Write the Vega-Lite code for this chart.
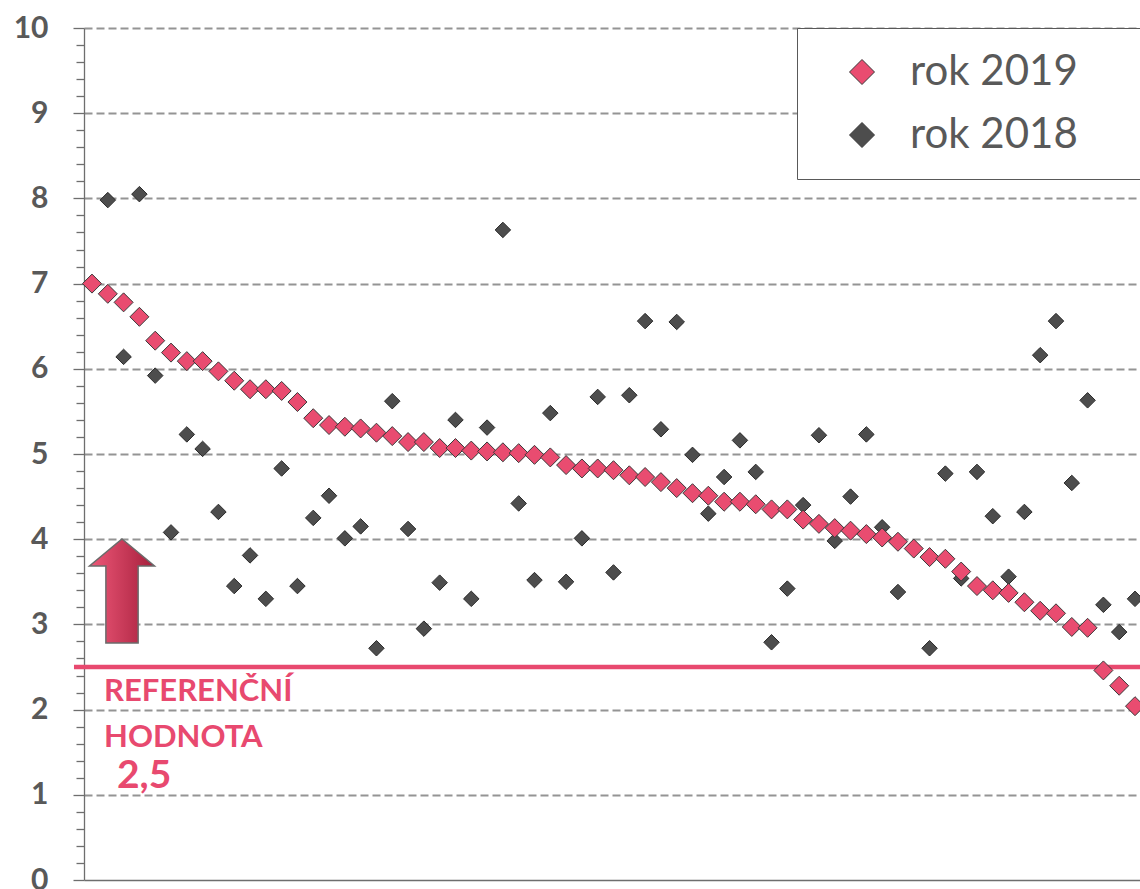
{
  "$schema": "https://vega.github.io/schema/vega-lite/v6.json",
  "autosize": {"type": "none"},
  "width": 1056,
  "height": 852,
  "padding": {"left": 84, "top": 28, "right": 0, "bottom": 9},
  "background": "#ffffff",
  "config": {
    "view": {"stroke": null},
    "legend": {
      "orient": "none",
      "legendX": 713,
      "legendY": 0,
      "padding": 23,
      "rowPadding": 21,
      "strokeColor": "#595959",
      "fillColor": "#ffffff",
      "symbolType": "diamond",
      "symbolSize": 625,
      "symbolStrokeColor": "#3a3a3a",
      "symbolStrokeWidth": 1,
      "symbolOffset": 21,
      "labelOffset": 27,
      "labelFont": "Lato",
      "labelFontSize": 42,
      "labelColor": "#595959",
      "labelLimit": 1000,
      "title": null
    }
  },
  "data": {
    "values": [
      {"i": 1, "y2019": 7.00, "y2018": null},
      {"i": 2, "y2019": 6.88, "y2018": 7.98},
      {"i": 3, "y2019": 6.78, "y2018": 6.14},
      {"i": 4, "y2019": 6.61, "y2018": 8.05},
      {"i": 5, "y2019": 6.33, "y2018": 5.92},
      {"i": 6, "y2019": 6.19, "y2018": 4.08},
      {"i": 7, "y2019": 6.09, "y2018": 5.23},
      {"i": 8, "y2019": 6.09, "y2018": 5.06},
      {"i": 9, "y2019": 5.97, "y2018": 4.32},
      {"i": 10, "y2019": 5.86, "y2018": 3.45},
      {"i": 11, "y2019": 5.76, "y2018": 3.81},
      {"i": 12, "y2019": 5.76, "y2018": 3.30},
      {"i": 13, "y2019": 5.74, "y2018": 4.83},
      {"i": 14, "y2019": 5.61, "y2018": 3.45},
      {"i": 15, "y2019": 5.42, "y2018": 4.25},
      {"i": 16, "y2019": 5.34, "y2018": 4.51},
      {"i": 17, "y2019": 5.32, "y2018": 4.01},
      {"i": 18, "y2019": 5.30, "y2018": 4.15},
      {"i": 19, "y2019": 5.25, "y2018": 2.72},
      {"i": 20, "y2019": 5.21, "y2018": 5.62},
      {"i": 21, "y2019": 5.14, "y2018": 4.12},
      {"i": 22, "y2019": 5.14, "y2018": 2.95},
      {"i": 23, "y2019": 5.07, "y2018": 3.49},
      {"i": 24, "y2019": 5.07, "y2018": 5.40},
      {"i": 25, "y2019": 5.04, "y2018": 3.30},
      {"i": 26, "y2019": 5.03, "y2018": 5.31},
      {"i": 27, "y2019": 5.02, "y2018": 7.63},
      {"i": 28, "y2019": 5.01, "y2018": 4.42},
      {"i": 29, "y2019": 4.99, "y2018": 3.52},
      {"i": 30, "y2019": 4.96, "y2018": 5.48},
      {"i": 31, "y2019": 4.87, "y2018": 3.50},
      {"i": 32, "y2019": 4.83, "y2018": 4.01},
      {"i": 33, "y2019": 4.83, "y2018": 5.67},
      {"i": 34, "y2019": 4.81, "y2018": 3.61},
      {"i": 35, "y2019": 4.75, "y2018": 5.69},
      {"i": 36, "y2019": 4.73, "y2018": 6.56},
      {"i": 37, "y2019": 4.67, "y2018": 5.29},
      {"i": 38, "y2019": 4.60, "y2018": 6.55},
      {"i": 39, "y2019": 4.54, "y2018": 4.99},
      {"i": 40, "y2019": 4.51, "y2018": 4.30},
      {"i": 41, "y2019": 4.44, "y2018": 4.73},
      {"i": 42, "y2019": 4.44, "y2018": 5.16},
      {"i": 43, "y2019": 4.41, "y2018": 4.79},
      {"i": 44, "y2019": 4.35, "y2018": 2.79},
      {"i": 45, "y2019": 4.35, "y2018": 3.42},
      {"i": 46, "y2019": 4.23, "y2018": 4.40},
      {"i": 47, "y2019": 4.18, "y2018": 5.22},
      {"i": 48, "y2019": 4.13, "y2018": 3.98},
      {"i": 49, "y2019": 4.10, "y2018": 4.50},
      {"i": 50, "y2019": 4.06, "y2018": 5.23},
      {"i": 51, "y2019": 4.02, "y2018": 4.14},
      {"i": 52, "y2019": 3.97, "y2018": 3.38},
      {"i": 53, "y2019": 3.89, "y2018": null},
      {"i": 54, "y2019": 3.79, "y2018": 2.72},
      {"i": 55, "y2019": 3.77, "y2018": 4.77},
      {"i": 56, "y2019": 3.62, "y2018": 3.54},
      {"i": 57, "y2019": 3.45, "y2018": 4.79},
      {"i": 58, "y2019": 3.40, "y2018": 4.27},
      {"i": 59, "y2019": 3.37, "y2018": 3.56},
      {"i": 60, "y2019": 3.26, "y2018": 4.32},
      {"i": 61, "y2019": 3.16, "y2018": 6.16},
      {"i": 62, "y2019": 3.13, "y2018": 6.56},
      {"i": 63, "y2019": 2.97, "y2018": 4.66},
      {"i": 64, "y2019": 2.96, "y2018": 5.63},
      {"i": 65, "y2019": 2.46, "y2018": 3.23},
      {"i": 66, "y2019": 2.28, "y2018": 2.91},
      {"i": 67, "y2019": 2.04, "y2018": 3.30}
    ]
  },
  "layer": [
    {
      "data": {"values": [{"ref": 2.5}]},
      "mark": {"type": "rule", "color": "#E8496F", "strokeWidth": 4.5, "clip": false},
      "encoding": {
        "x": {"datum": -0.14, "type": "quantitative"},
        "x2": {"datum": 70},
        "y": {"field": "ref", "type": "quantitative"}
      }
    },
    {
      "transform": [{"filter": "isValid(datum.y2018)"}],
      "mark": {"type": "point", "shape": "diamond", "filled": true, "size": 240, "opacity": 1, "stroke": "#2b2b2b", "strokeWidth": 1},
      "encoding": {
        "x": {
          "field": "i", "type": "quantitative",
          "scale": {"domain": [0.494, 67.316], "nice": false, "zero": false},
          "axis": {"title": null, "labels": false, "ticks": false, "grid": false, "domain": true, "domainColor": "#6e6e6e", "domainWidth": 1.3}
        },
        "y": {
          "field": "y2018", "type": "quantitative",
          "scale": {"domain": [0, 10], "nice": false, "zero": true},
          "axis": {
            "title": null,
            "tickCount": 100,
            "values": [0,0.2,0.4,0.6,0.8,1,1.2,1.4,1.6,1.8,2,2.2,2.4,2.6,2.8,3,3.2,3.4,3.6,3.8,4,4.2,4.4,4.6,4.8,5,5.2,5.4,5.6,5.8,6,6.2,6.4,6.6,6.8,7,7.2,7.4,7.6,7.8,8,8.2,8.4,8.6,8.8,9,9.2,9.4,9.6,9.8,10],
            "labelExpr": "abs(datum.value - round(datum.value)) < 0.001 ? format(datum.value, 'd') : ''",
            "labelOverlap": false,
            "labelFont": "Lato",
            "labelFontWeight": "bold",
            "labelFontSize": 30,
            "labelColor": "#595959",
            "labelPadding": 25,
            "labelBaseline": "middle",
            "domainColor": "#6e6e6e",
            "domainWidth": 1.3,
            "tickColor": "#6e6e6e",
            "tickWidth": 1.3,
            "tickSize": {"condition": {"test": "abs(datum.value - round(datum.value)) < 0.001", "value": 11}, "value": 8},
            "grid": true,
            "gridColor": "#949494",
            "gridWidth": 2,
            "gridDash": [8, 4],
            "gridOpacity": {"condition": {"test": "abs(datum.value - round(datum.value)) < 0.001 && datum.value > 0.5", "value": 1}, "value": 0}
          }
        },
        "color": {
          "datum": "rok 2018", "type": "nominal",
          "scale": {"domain": ["rok 2019", "rok 2018"], "range": ["#E94C70", "#4D4D4D"]},
          "legend": {
            "title": null,
            "labelExpr": "datum.label + '\u2800\u2800'"
          }
        }
      }
    },
    {
      "mark": {"type": "point", "shape": "diamond", "filled": true, "size": 361, "opacity": 1, "stroke": "#3a3a3a", "strokeWidth": 1},
      "encoding": {
        "x": {"field": "i", "type": "quantitative"},
        "y": {"field": "y2019", "type": "quantitative"},
        "color": {
          "datum": "rok 2019", "type": "nominal",
          "legend": {
            "title": null,
            "labelExpr": "datum.label + '\u2800\u2800'"
          }
        }
      }
    },
    {
      "data": {"values": [{"ax": 2.899, "ay": 3.392}]},
      "mark": {
        "type": "point", "filled": true, "opacity": 1,
        "shape": "M0,-1 L0.625,-0.48 L0.31,-0.48 L0.31,1 L-0.31,1 L-0.31,-0.48 L-0.625,-0.48 Z",
        "size": 10816,
        "fill": {"gradient": "linear", "x1": 0, "y1": 0, "x2": 1, "y2": 0, "stops": [{"offset": 0, "color": "#EE5878"}, {"offset": 1, "color": "#A51F3C"}]},
        "stroke": "#6b6b6b", "strokeWidth": 1.5, "clip": false
      },
      "encoding": {
        "x": {"field": "ax", "type": "quantitative"},
        "y": {"field": "ay", "type": "quantitative"}
      }
    },
    {
      "data": {"values": [
        {"t": "REFERENČNÍ", "tx": 1.76, "ty": 2.21},
        {"t": "HODNOTA", "tx": 1.76, "ty": 1.67}
      ]},
      "mark": {"type": "text", "align": "left", "baseline": "middle", "font": "Lato", "fontWeight": "bold", "fontSize": 31, "color": "#E8496F", "clip": false},
      "encoding": {
        "x": {"field": "tx", "type": "quantitative"},
        "y": {"field": "ty", "type": "quantitative"},
        "text": {"field": "t"}
      }
    },
    {
      "data": {"values": [{"t": "2,5", "tx": 2.58, "ty": 1.08}]},
      "mark": {"type": "text", "align": "left", "baseline": "alphabetic", "font": "Lato", "fontWeight": "bold", "fontSize": 39, "color": "#E8496F", "clip": false},
      "encoding": {
        "x": {"field": "tx", "type": "quantitative"},
        "y": {"field": "ty", "type": "quantitative"},
        "text": {"field": "t"}
      }
    }
  ]
}
